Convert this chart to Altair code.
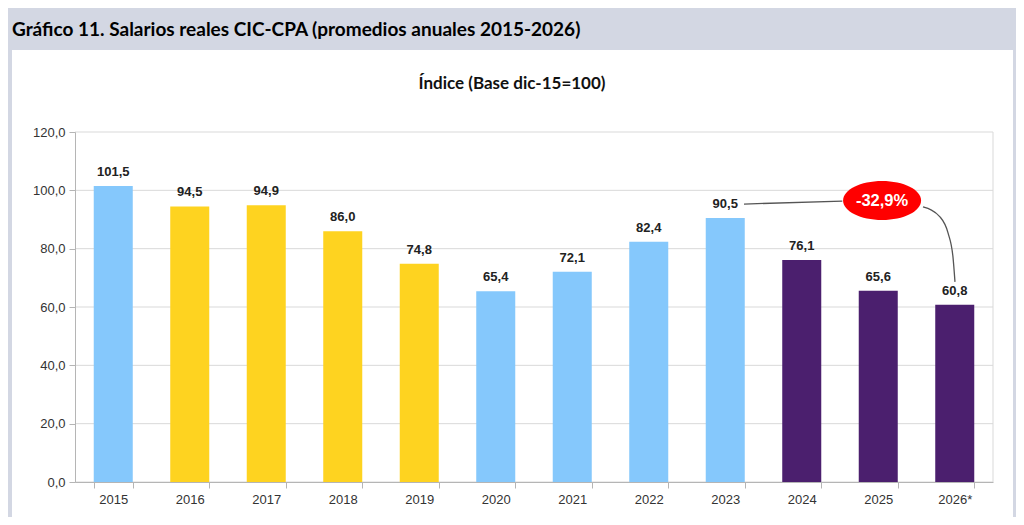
import altair as alt
import pandas as pd

# ---- data ----
years = ["2015", "2016", "2017", "2018", "2019", "2020", "2021", "2022", "2023", "2024", "2025", "2026*"]
values = [101.5, 94.5, 94.9, 86.0, 74.8, 65.4, 72.1, 82.4, 90.5, 76.1, 65.6, 60.8]
groups = ["celeste", "amarillo", "amarillo", "amarillo", "amarillo", "celeste",
          "celeste", "celeste", "celeste", "violeta", "violeta", "violeta"]
group_domain = ["celeste", "amarillo", "violeta"]
group_colors = ["#85c8fc", "#fed320", "#4b1f6e"]
y_ticks = [0, 20, 40, 60, 80, 100, 120]

title_text = "Gráfico 11. Salarios reales CIC-CPA (promedios anuales 2015-2026)"
subtitle_text = "Índice (Base dic-15=100)"

callout_text = ["-32,9%"]
callout_x = [10.55]
callout_y = [96.5]

conn_seg = ["a", "a", "b", "b", "b", "b", "b"]
conn_x = [8.745, 10.03, 11.085, 11.307, 11.412, 11.477, 11.503]
conn_y = [95.3, 96.3, 94.3, 90.9, 85.4, 77.1, 68.6]

W, H = 918, 350
FONT = "Liberation Sans"

bars_df = pd.DataFrame({"year": years, "value": values, "group": groups})
conn_df = pd.DataFrame({"seg": conn_seg, "cx": conn_x, "cy": conn_y})
call_df = pd.DataFrame({"t": callout_text, "cx": callout_x, "cy": callout_y})
grid_df = pd.DataFrame({"t": y_ticks})

x_scale = alt.Scale(paddingInner=0.49, paddingOuter=0.245)
x_axis = alt.Axis(title=None, labelAngle=0, tickBand="extent", grid=False, zindex=1,
                  labelFont=FONT, labelFontSize=13, labelColor="#333333",
                  tickColor="#b5b5b5", domainColor="#b5b5b5", tickSize=6,
                  labelPadding=5)
y_scale = alt.Scale(domain=[0, 120], nice=False)
y_axis = alt.Axis(title=None, values=y_ticks, grid=False, zindex=1,
                  labelExpr="replace(format(datum.value, '.1f'), '.', ',')",
                  labelFont=FONT, labelFontSize=13, labelColor="#333333",
                  tickColor="#b5b5b5", domainColor="#b5b5b5", tickSize=6,
                  labelPadding=4)
q_scale = alt.Scale(domain=[0, 12], nice=False, zero=False)

one = alt.Data(values=[{}])

panel = alt.Chart(one).mark_rect(color="white").encode(
    x=alt.value(-63), x2=alt.value(W + 20), y=alt.value(-82), y2=alt.value(H + 35)
)
border = alt.Chart(one).mark_rule(color="#d9d9d9").encode(
    x=alt.value(W), y=alt.value(0), y2=alt.value(H)
)
grid = alt.Chart(grid_df).mark_rule(color="#d9d9d9", strokeWidth=1).encode(
    y=alt.Y("t:Q", scale=y_scale, axis=y_axis)
)

bars = alt.Chart(bars_df).mark_bar().encode(
    x=alt.X("year:N", sort=years, scale=x_scale, axis=x_axis),
    y=alt.Y("value:Q", scale=y_scale, axis=y_axis),
    color=alt.Color("group:N", scale=alt.Scale(domain=group_domain, range=group_colors), legend=None),
)

labels = alt.Chart(bars_df).transform_calculate(
    label="replace(format(datum.value, '.1f'), '.', ',')"
).mark_text(font=FONT, fontSize=13, fontWeight="bold", color="#222222",
            baseline="middle", dy=-14).encode(
    x=alt.X("year:N", sort=years, scale=x_scale, axis=None),
    y=alt.Y("value:Q", scale=y_scale, axis=y_axis),
    text="label:N",
)

conn = alt.Chart(conn_df).mark_line(color="#555555", strokeWidth=1.3, interpolate="monotone").encode(
    x=alt.X("cx:Q", scale=q_scale, axis=None),
    y=alt.Y("cy:Q", scale=y_scale, axis=y_axis),
    detail="seg:N",
)

ellipse = alt.Chart(call_df).mark_point(
    shape="M -1 0 A 1 0.5 0 1 1 1 0 A 1 0.5 0 1 1 -1 0 Z",
    filled=True, color="#ff0000", opacity=1, size=6084, strokeWidth=0,
).encode(
    x=alt.X("cx:Q", scale=q_scale, axis=None),
    y=alt.Y("cy:Q", scale=y_scale, axis=y_axis),
)

callout = alt.Chart(call_df).mark_text(
    font=FONT, fontSize=16.5, fontWeight="bold", color="white", baseline="middle"
).encode(
    x=alt.X("cx:Q", scale=q_scale, axis=None),
    y=alt.Y("cy:Q", scale=y_scale, axis=y_axis),
    text="t:N",
)

subtitle = alt.Chart(one).mark_text(
    font="Lato", fontSize=17, fontWeight="bold", color="#111111", baseline="middle", align="center"
).encode(
    x=alt.value(437), y=alt.value(-48), text=alt.value(subtitle_text)
)

chart = alt.layer(
    panel, border, grid, bars, labels, conn, ellipse, callout, subtitle
).resolve_scale(
    x="independent"
).properties(
    width=W, height=H,
    autosize=alt.AutoSizeParams(type="none"),
    padding={"left": 67, "top": 124, "right": 23, "bottom": 35},
    title=alt.Title(title_text, anchor="start", frame="group", dx=-63, dy=-6,
                    font="Lato", fontSize=19, fontWeight="bold", color="#000000"),
).configure(
    background="#d3d7e3"
).configure_view(strokeWidth=0)

chart.save("out.html", embed_options={"renderer": "svg", "actions": False})
